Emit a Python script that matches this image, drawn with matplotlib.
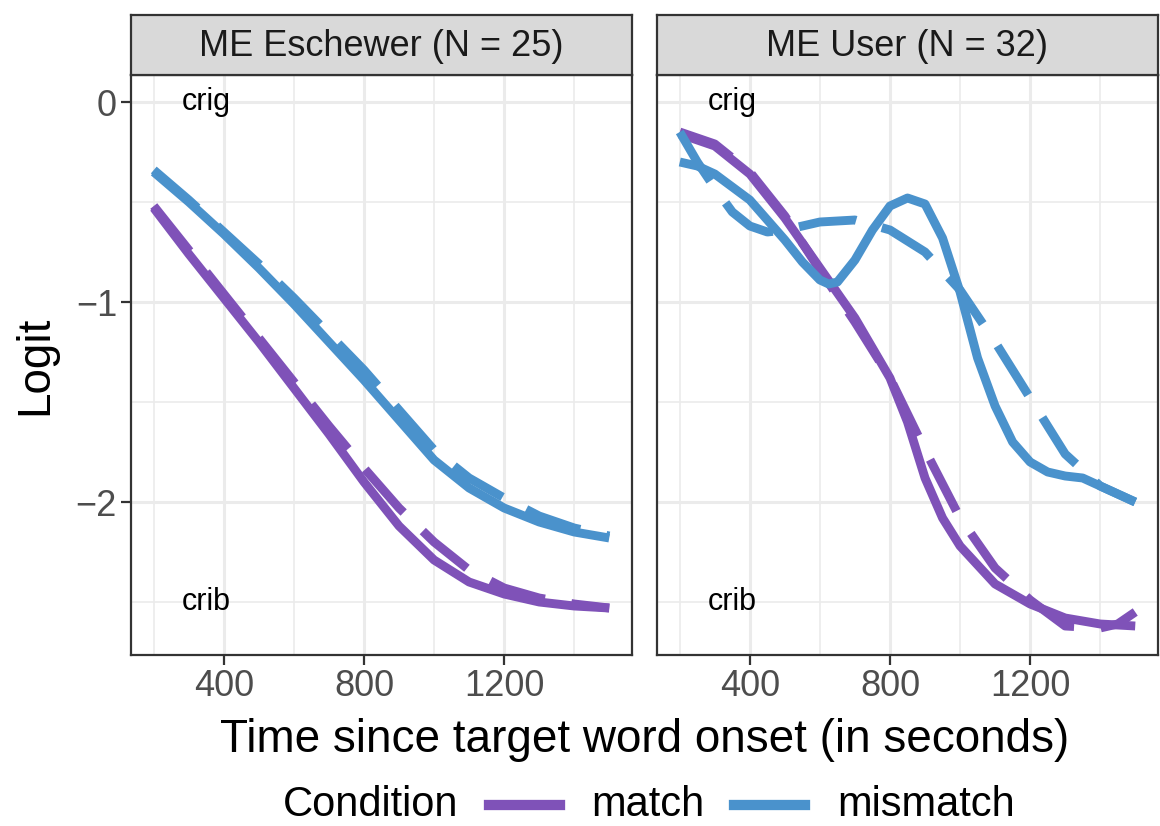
import numpy as np
import matplotlib
matplotlib.use('Agg')
from matplotlib import pyplot as plt
from matplotlib.lines import Line2D

plt.rcParams['font.family'] = ['Liberation Sans', 'DejaVu Sans']

# smoothed logit curves, read off per panel / condition
# solid = model fit, dashed = observed smooth
esch_x = [200, 300, 400, 500, 600, 700, 800, 900, 1000, 1100, 1200, 1300, 1400, 1500]
esch_match = [-0.53, -0.76, -0.98, -1.20, -1.43, -1.66, -1.90, -2.12, -2.29, -2.40, -2.46, -2.50, -2.52, -2.53]
esch_match_d = [-0.52, -0.74, -0.96, -1.18, -1.40, -1.62, -1.83, -2.03, -2.20, -2.34, -2.43, -2.48, -2.51, -2.53]
esch_mism = [-0.35, -0.50, -0.66, -0.83, -1.01, -1.20, -1.39, -1.59, -1.79, -1.93, -2.03, -2.10, -2.15, -2.18]
esch_mism_d = [-0.34, -0.49, -0.65, -0.81, -0.98, -1.16, -1.34, -1.54, -1.74, -1.88, -1.98, -2.07, -2.13, -2.17]

user_match_x = [200, 300, 400, 500, 600, 700, 800, 850, 900, 950, 1000, 1100, 1200, 1300, 1400, 1500]
user_match = [-0.16, -0.22, -0.36, -0.58, -0.83, -1.08, -1.38, -1.60, -1.88, -2.08, -2.22, -2.41, -2.51, -2.58, -2.61, -2.62]
user_match_dx = [200, 300, 400, 500, 600, 700, 800, 850, 900, 1000, 1100, 1200, 1300, 1400, 1450, 1500]
user_match_d = [-0.15, -0.21, -0.35, -0.57, -0.84, -1.10, -1.38, -1.56, -1.74, -2.08, -2.33, -2.49, -2.62, -2.63, -2.61, -2.55]

user_mism_x = [200, 250, 300, 400, 500, 550, 600, 625, 650, 700, 750, 800, 850, 900, 950, 1000,
               1050, 1100, 1150, 1200, 1250, 1300, 1350, 1400, 1450, 1500]
user_mism = [-0.30, -0.32, -0.36, -0.49, -0.69, -0.80, -0.89, -0.91, -0.90, -0.79, -0.64, -0.52, -0.48,
             -0.51, -0.68, -0.95, -1.28, -1.52, -1.70, -1.80, -1.85, -1.87, -1.88, -1.92, -1.96, -2.00]
user_mism_dx = [200, 250, 300, 350, 400, 450, 500, 600, 700, 800, 900, 1000, 1100, 1200, 1300, 1400, 1500]
user_mism_d = [-0.15, -0.30, -0.43, -0.55, -0.62, -0.65, -0.64, -0.60, -0.59, -0.64, -0.75, -0.94,
               -1.20, -1.48, -1.76, -1.92, -2.00]

panels = ['ME Eschewer (N = 25)', 'ME User (N = 32)']
conditions = ['match', 'mismatch']
col = {'match': '#7F52B8', 'mismatch': '#4A92CC'}

series = [
    [(esch_x, esch_match, esch_x, esch_match_d), (esch_x, esch_mism, esch_x, esch_mism_d)],
    [(user_match_x, user_match, user_match_dx, user_match_d), (user_mism_x, user_mism, user_mism_dx, user_mism_d)],
]

W, H = 1160, 826
fig = plt.figure(figsize=(W / 100, H / 100), dpi=100)

lw = 6.4
dark = '#333333'
lefts = [131, 657]
pw = 501
top, bot = 75, 655

for i, name in enumerate(panels):
    ax = fig.add_axes([lefts[i] / W, (H - bot) / H, pw / W, (bot - top) / H])
    ax.set_xlim(135, 1565)
    ax.set_ylim(-2.765, 0.135)
    ax.set_xticks([400, 800, 1200])
    ax.set_xticks([200, 600, 1000, 1400], minor=True)
    ax.set_yticks([0, -1, -2])
    ax.set_yticks([-0.5, -1.5, -2.5], minor=True)
    ax.grid(which='major', color='#EBEBEB', lw=2.2)
    ax.grid(which='minor', color='#EBEBEB', lw=1.2)
    ax.set_axisbelow(True)
    for s in ax.spines.values():
        s.set_color(dark)
        s.set_linewidth(1.6)
    ax.tick_params(which='major', length=7, width=1.6, color=dark, labelsize=26,
                   labelcolor='#4D4D4D', pad=3)
    ax.tick_params(which='minor', length=0)
    if i == 1:
        ax.tick_params(axis='y', labelleft=False, length=0)

    for c, (sx, sy, dx, dy) in zip(conditions, series[i]):
        ax.plot(sx, sy, color=col[c], lw=lw, solid_capstyle='butt')
        ax.plot(dx, dy, color=col[c], lw=lw, dashes=(6.5, 3), dash_capstyle='butt')

    ax.text(350, 0, 'crig', fontsize=22, ha='center', va='center')
    ax.text(350, -2.5, 'crib', fontsize=22, ha='center', va='center')

    # facet strip
    sax = fig.add_axes([lefts[i] / W, (H - top) / H, pw / W, 60 / H])
    sax.set_facecolor('#D9D9D9')
    sax.set_xticks([])
    sax.set_yticks([])
    for s in sax.spines.values():
        s.set_color(dark)
        s.set_linewidth(1.6)
    sax.text(0.5, 0.47, name, fontsize=26, color='#1A1A1A', ha='center', va='center',
             transform=sax.transAxes)

fig.text(645 / W, 1 - 740 / H, 'Time since target word onset (in seconds)', fontsize=33,
         ha='center', va='center')
fig.text(35 / W, 1 - 365 / H, 'Logit', fontsize=33, rotation=90, ha='center', va='center')

# legend along the bottom
ly = 1 - 805 / H
fig.text(283 / W, ly, 'Condition', fontsize=30, ha='left', va='center')
fig.add_artist(Line2D([489 / W, 560 / W], [ly, ly], color=col['match'], lw=lw + 1))
fig.text(591 / W, ly, 'match', fontsize=30, ha='left', va='center')
fig.add_artist(Line2D([734 / W, 805 / W], [ly, ly], color=col['mismatch'], lw=lw + 1))
fig.text(837 / W, ly, 'mismatch', fontsize=30, ha='left', va='center')

plt.savefig('out.png', dpi=100)
